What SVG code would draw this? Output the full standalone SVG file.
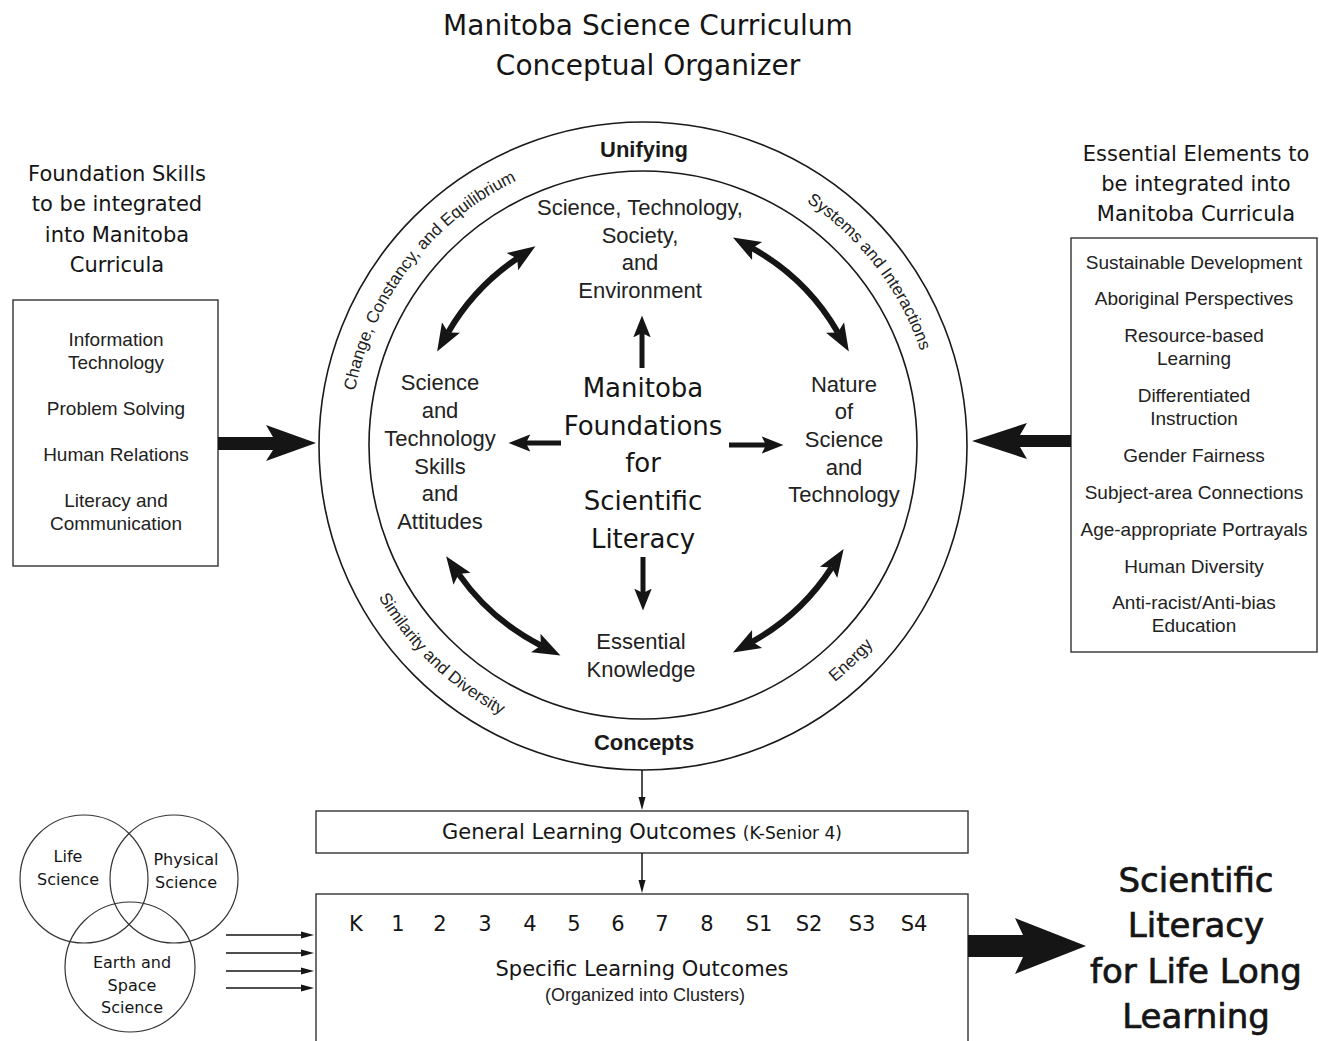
<svg xmlns="http://www.w3.org/2000/svg" width="1319" height="1041" viewBox="0 0 1319 1041">
<style>
.comic{font-family:"DejaVu Sans","Noto Sans",sans-serif;fill:#151515;text-anchor:middle}
.sans{font-family:"Liberation Sans",Arial,sans-serif;fill:#222;text-anchor:middle}
.box{fill:#fff;stroke:#333;stroke-width:1.4}
.ring{fill:none;stroke:#1a1a1a;stroke-width:1.6}
.arc{font-family:"Liberation Sans",Arial,sans-serif;fill:#222;font-size:17px}
.curve{fill:none;stroke:#151515;stroke-width:6;marker-start:url(#bigHead);marker-end:url(#bigHead)}
.straight{stroke:#151515;stroke-width:5;marker-end:url(#midHead)}
.thin{stroke:#151515;stroke-width:1.5;marker-end:url(#smallHead)}
.block{fill:#151515}
</style>
<defs>
<marker id="bigHead" markerUnits="userSpaceOnUse" markerWidth="30" markerHeight="24" viewBox="0 -10 26 20" refX="5" refY="0" orient="auto-start-reverse">
<path d="M0,-9 L24,0 L0,9 L5,0 Z" fill="#151515"/>
</marker>
<marker id="midHead" markerUnits="userSpaceOnUse" markerWidth="24" markerHeight="20" viewBox="0 -9 22 18" refX="4" refY="0" orient="auto">
<path d="M0,-8 L20,0 L0,8 L4,0 Z" fill="#151515"/>
</marker>
<marker id="smallHead" markerUnits="userSpaceOnUse" markerWidth="16" markerHeight="10" viewBox="0 -5 14 10" refX="1" refY="0" orient="auto">
<path d="M0,-3.5 L13,0 L0,3.5 Z" fill="#151515"/>
</marker>
<path id="topPath" d="M350,445 A293,293 0 1 1 936,445 A293,293 0 1 1 350,445"/>
<path id="botPath" d="M338,445 A305,305 0 1 0 948,445 A305,305 0 1 0 338,445"/>
</defs>
<rect width="1319" height="1041" fill="#fff"/>

<g id="title">
<text class="comic" x="648" y="35" font-size="28">Manitoba Science Curriculum</text>
<text class="comic" x="648" y="75" font-size="28">Conceptual Organizer</text>
</g>

<g id="foundation-label">
<text class="comic" x="117" y="181" font-size="21">Foundation Skills</text>
<text class="comic" x="117" y="211" font-size="21">to be integrated</text>
<text class="comic" x="117" y="242" font-size="21">into Manitoba</text>
<text class="comic" x="117" y="272" font-size="21">Curricula</text>
</g>

<g id="foundation-skills">
<rect class="box" x="13" y="300" width="205" height="266"/>
<text class="sans" x="116" y="346" font-size="19">Information</text>
<text class="sans" x="116" y="369" font-size="19">Technology</text>
<text class="sans" x="116" y="415" font-size="19">Problem Solving</text>
<text class="sans" x="116" y="461" font-size="19">Human Relations</text>
<text class="sans" x="116" y="507" font-size="19">Literacy and</text>
<text class="sans" x="116" y="530" font-size="19">Communication</text>
</g>

<g id="essential-label">
<text class="comic" x="1196" y="161" font-size="21">Essential Elements to</text>
<text class="comic" x="1196" y="191" font-size="21">be integrated into</text>
<text class="comic" x="1196" y="221" font-size="21">Manitoba Curricula</text>
</g>

<g id="essential-elements">
<rect class="box" x="1071" y="238" width="246" height="414"/>
<text class="sans" x="1194" y="269" font-size="19">Sustainable Development</text>
<text class="sans" x="1194" y="305" font-size="19">Aboriginal Perspectives</text>
<text class="sans" x="1194" y="342" font-size="19">Resource-based</text>
<text class="sans" x="1194" y="365" font-size="19">Learning</text>
<text class="sans" x="1194" y="402" font-size="19">Differentiated</text>
<text class="sans" x="1194" y="425" font-size="19">Instruction</text>
<text class="sans" x="1194" y="462" font-size="19">Gender Fairness</text>
<text class="sans" x="1194" y="499" font-size="19">Subject-area Connections</text>
<text class="sans" x="1194" y="536" font-size="19">Age-appropriate Portrayals</text>
<text class="sans" x="1194" y="573" font-size="19">Human Diversity</text>
<text class="sans" x="1194" y="609" font-size="19">Anti-racist/Anti-bias</text>
<text class="sans" x="1194" y="632" font-size="19">Education</text>
</g>

<g id="unifying-concepts">
<circle class="ring" cx="643" cy="446" r="324"/>
<text x="644" y="157" font-family="Liberation Sans, Arial, sans-serif" font-weight="bold" font-size="22" fill="#1a1a1a" text-anchor="middle">Unifying</text>
<text x="644" y="750" font-family="Liberation Sans, Arial, sans-serif" font-weight="bold" font-size="22" fill="#1a1a1a" text-anchor="middle">Concepts</text>
<text class="arc" text-anchor="middle"><textPath href="#topPath" startOffset="192">Change, Constancy, and Equilibrium</textPath></text>
<text class="arc" text-anchor="middle"><textPath href="#topPath" startOffset="729">Systems and Interactions</textPath></text>
<text class="arc" text-anchor="middle"><textPath href="#botPath" startOffset="245">Similarity and Diversity</textPath></text>
<text class="arc" text-anchor="middle"><textPath href="#botPath" startOffset="713">Energy</textPath></text>
</g>

<g id="inner-circle">
<circle class="ring" cx="643" cy="445" r="274"/>
</g>

<g id="manitoba-foundations">
<text class="comic" x="643" y="397" font-size="26">Manitoba</text>
<text class="comic" x="643" y="435" font-size="26">Foundations</text>
<text class="comic" x="643" y="472" font-size="26">for</text>
<text class="comic" x="643" y="510" font-size="26">Scientific</text>
<text class="comic" x="643" y="548" font-size="26">Literacy</text>
</g>

<g id="stse">
<text class="sans" x="640" y="215" font-size="22">Science, Technology,</text>
<text class="sans" x="640" y="243" font-size="22">Society,</text>
<text class="sans" x="640" y="270" font-size="22">and</text>
<text class="sans" x="640" y="298" font-size="22">Environment</text>
</g>

<g id="skills-attitudes">
<text class="sans" x="440" y="390" font-size="22">Science</text>
<text class="sans" x="440" y="418" font-size="22">and</text>
<text class="sans" x="440" y="446" font-size="22">Technology</text>
<text class="sans" x="440" y="474" font-size="22">Skills</text>
<text class="sans" x="440" y="501" font-size="22">and</text>
<text class="sans" x="440" y="529" font-size="22">Attitudes</text>
</g>

<g id="nature-of-science">
<text class="sans" x="844" y="392" font-size="22">Nature</text>
<text class="sans" x="844" y="419" font-size="22">of</text>
<text class="sans" x="844" y="447" font-size="22">Science</text>
<text class="sans" x="844" y="475" font-size="22">and</text>
<text class="sans" x="844" y="502" font-size="22">Technology</text>
</g>

<g id="essential-knowledge">
<text class="sans" x="641" y="649" font-size="22">Essential</text>
<text class="sans" x="641" y="677" font-size="22">Knowledge</text>
</g>

<g id="general-learning-outcomes">
<rect class="box" x="316" y="811" width="652" height="42"/>
<text class="comic" x="642" y="839" font-size="21">General Learning Outcomes <tspan font-size="17">(K-Senior 4)</tspan></text>
</g>

<g id="specific-learning-outcomes">
<rect class="box" x="316" y="894" width="652" height="152"/>
<g class="comic" font-size="21">
<text x="356" y="931">K</text><text x="398" y="931">1</text><text x="440" y="931">2</text><text x="485" y="931">3</text><text x="530" y="931">4</text><text x="574" y="931">5</text><text x="618" y="931">6</text><text x="662" y="931">7</text><text x="707" y="931">8</text><text x="759" y="931">S1</text><text x="809" y="931">S2</text><text x="862" y="931">S3</text><text x="914" y="931">S4</text>
</g>
<text class="comic" x="642" y="976" font-size="21">Specific Learning Outcomes</text>
<text class="sans" x="645" y="1001" font-size="18">(Organized into Clusters)</text>
</g>

<g id="science-venn">
<circle cx="84" cy="879" r="64" fill="none" stroke="#333" stroke-width="1.2"/>
<circle cx="174" cy="879" r="64" fill="none" stroke="#333" stroke-width="1.2"/>
<circle cx="130" cy="967" r="65" fill="none" stroke="#333" stroke-width="1.2"/>
<text class="comic" x="68" y="862" font-size="16">Life</text>
<text class="comic" x="68" y="885" font-size="16">Science</text>
<text class="comic" x="186" y="865" font-size="16">Physical</text>
<text class="comic" x="186" y="888" font-size="16">Science</text>
<text class="comic" x="132" y="968" font-size="16">Earth and</text>
<text class="comic" x="132" y="991" font-size="16">Space</text>
<text class="comic" x="132" y="1013" font-size="16">Science</text>
</g>

<g id="scientific-literacy">
<text class="comic" x="1196" y="892" font-size="34" stroke="#151515" stroke-width="0.7">Scientific</text>
<text class="comic" x="1196" y="937" font-size="34" stroke="#151515" stroke-width="0.7">Literacy</text>
<text class="comic" x="1196" y="983" font-size="34" stroke="#151515" stroke-width="0.7">for Life Long</text>
<text class="comic" x="1196" y="1028" font-size="34" stroke="#151515" stroke-width="0.7">Learning</text>
</g>

<g id="connectors">
<path class="curve" d="M448.1,332.5 A225,225 0 0 1 517.2,258.5"/>
<path class="curve" d="M752.1,248.2 A225,225 0 0 1 837.9,332.5"/>
<path class="curve" d="M831.7,567.5 A225,225 0 0 1 752.1,641.8"/>
<path class="curve" d="M540.9,645.5 A225,225 0 0 1 458.7,574.1"/>
<line class="straight" x1="642" y1="368" x2="642" y2="333"/>
<line class="straight" x1="643" y1="557" x2="643" y2="593"/>
<line class="straight" x1="561" y1="443" x2="526" y2="443"/>
<line class="straight" x1="729" y1="445" x2="766" y2="445"/>
<path class="block" d="M218,437 L273,437 L266,425 L316,443 L266,461 L273,450 L218,450 Z"/>
<path class="block" d="M1071,435 L1020,435 L1027,423 L972,441 L1027,459 L1020,447 L1071,447 Z"/>
<path class="block" d="M968,935 L1023,935 L1015,918 L1086,946 L1015,974 L1023,957 L968,957 Z"/>
<line class="thin" x1="642" y1="770" x2="642" y2="798"/>
<line class="thin" x1="642" y1="853" x2="642" y2="881"/>
<line class="thin" x1="226" y1="935" x2="302" y2="935"/>
<line class="thin" x1="226" y1="953" x2="302" y2="953"/>
<line class="thin" x1="226" y1="971" x2="302" y2="971"/>
<line class="thin" x1="226" y1="988" x2="302" y2="988"/>
</g>
</svg>
